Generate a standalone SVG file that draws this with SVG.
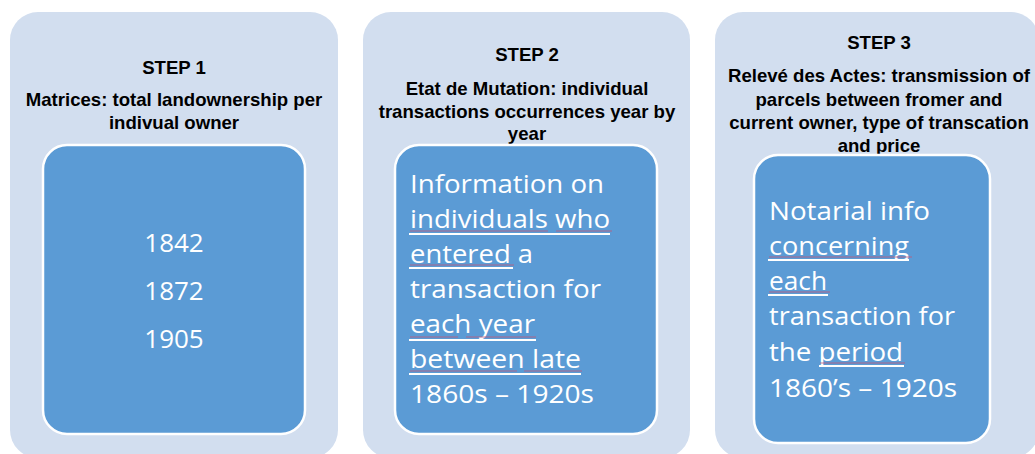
<svg xmlns="http://www.w3.org/2000/svg" width="1035" height="454" viewBox="0 0 1035 454">
<style>
.outer{fill:#D2DEEF}
.inner{fill:#5B9BD5;stroke:#FFFFFF;stroke-width:2.5}
.hd{font-family:"Liberation Sans",Arial,sans-serif;font-weight:bold;font-size:18.6px;fill:#000;text-anchor:middle}
.wt{font-family:"Open Sans","Liberation Sans",sans-serif;font-size:26px;fill:#FFFFFF}
.num{text-anchor:middle}
.ul{stroke:#FFFFFF;stroke-width:2}
.sp{stroke:#C0587A;stroke-width:0.8}
</style>
<rect width="1035" height="454" fill="#FFFFFF"/>
<g id="step1">
<rect class="outer" x="10" y="12" width="328" height="446" rx="28"/>
<text class="hd" x="174" y="74">STEP 1</text>
<text class="hd" x="174" y="106">Matrices: total landownership per</text>
<text class="hd" x="174" y="129">indivual owner</text>
<rect class="inner" x="43" y="145" width="262" height="289" rx="24"/>
<text class="wt num" x="174" y="252">1842</text>
<text class="wt num" x="174" y="300">1872</text>
<text class="wt num" x="174" y="348">1905</text>
</g>
<g id="step2">
<rect class="outer" x="363" y="12" width="327" height="446" rx="28"/>
<text class="hd" x="527" y="61">STEP 2</text>
<text class="hd" x="527" y="95">Etat de Mutation: individual</text>
<text class="hd" x="527" y="117.5">transactions occurrences  year by</text>
<text class="hd" x="527" y="140">year</text>
<rect class="inner" x="395" y="145" width="262" height="289" rx="24"/>
<text class="wt" x="410" y="193" textLength="194" lengthAdjust="spacingAndGlyphs">Information on</text>
<text class="wt" x="410" y="228" textLength="200" lengthAdjust="spacingAndGlyphs">individuals who</text>
<text class="wt" x="410" y="263" textLength="123" lengthAdjust="spacingAndGlyphs">entered a</text>
<text class="wt" x="410" y="298" textLength="191" lengthAdjust="spacingAndGlyphs">transaction for</text>
<text class="wt" x="410" y="333" textLength="125" lengthAdjust="spacingAndGlyphs">each year</text>
<text class="wt" x="410" y="368" textLength="171" lengthAdjust="spacingAndGlyphs">between late</text>
<text class="wt" x="410" y="403" textLength="184" lengthAdjust="spacingAndGlyphs">1860s – 1920s</text>
<line class="sp" x1="410" y1="231" x2="548" y2="231"/>
<line class="sp" x1="556" y1="231" x2="612" y2="231"/>
<line class="ul" x1="409" y1="234" x2="610" y2="234"/>
<line class="sp" x1="410" y1="265" x2="514" y2="265"/>
<line class="ul" x1="409" y1="268" x2="513" y2="268"/>
<line class="sp" x1="410" y1="337" x2="458" y2="337"/>
<line class="sp" x1="466" y1="337" x2="536" y2="337"/>
<line class="ul" x1="409" y1="340" x2="536" y2="340"/>
<line class="sp" x1="410" y1="371" x2="517" y2="371"/>
<line class="sp" x1="524" y1="371" x2="582" y2="371"/>
<line class="ul" x1="409" y1="374" x2="581" y2="374"/>
</g>
<g id="step3">
<rect class="outer" x="715" y="12" width="324" height="446" rx="28"/>
<text class="hd" x="879" y="49">STEP 3</text>
<text class="hd" x="879" y="82">Relevé des Actes: transmission of</text>
<text class="hd" x="879" y="105.5">parcels between fromer and</text>
<text class="hd" x="879" y="129">current owner, type of transcation</text>
<text class="hd" x="879" y="152">and price</text>
<rect class="inner" x="754" y="155" width="236" height="288" rx="24"/>
<text class="wt" x="769" y="220" textLength="161" lengthAdjust="spacingAndGlyphs">Notarial info</text>
<text class="wt" x="769" y="255" textLength="140" lengthAdjust="spacingAndGlyphs">concerning</text>
<text class="wt" x="769" y="290" textLength="58" lengthAdjust="spacingAndGlyphs">each</text>
<text class="wt" x="769" y="325" textLength="186" lengthAdjust="spacingAndGlyphs">transaction for</text>
<text class="wt" x="769" y="361" textLength="134" lengthAdjust="spacingAndGlyphs">the period</text>
<text class="wt" x="769" y="397" textLength="188" lengthAdjust="spacingAndGlyphs">1860’s – 1920s</text>
<line class="sp" x1="769" y1="257" x2="912" y2="257"/>
<line class="ul" x1="768" y1="260" x2="909" y2="260"/>
<line class="sp" x1="769" y1="292" x2="830" y2="292"/>
<line class="ul" x1="768" y1="295" x2="828" y2="295"/>
<line class="sp" x1="820" y1="363" x2="905" y2="363"/>
<line class="ul" x1="819" y1="366" x2="904" y2="366"/>
</g>
<g id="connectors"></g>
</svg>
